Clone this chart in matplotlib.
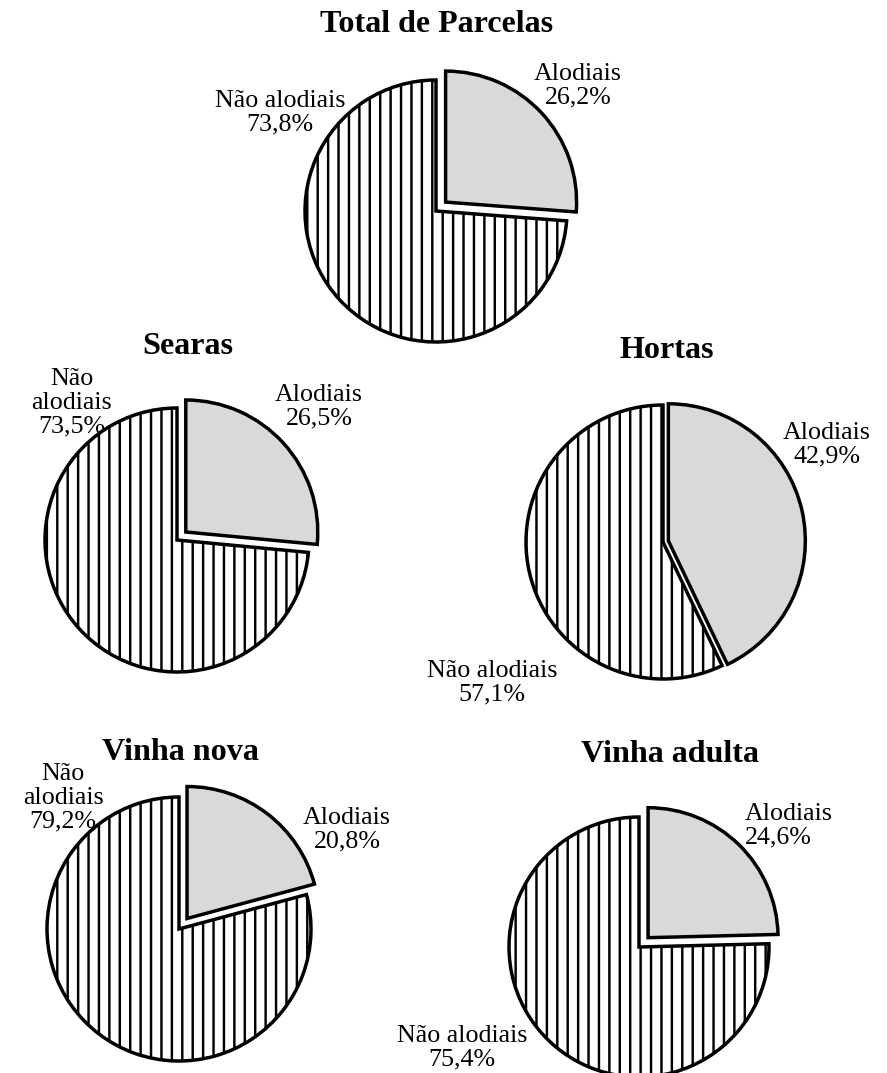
import numpy as np
import matplotlib
matplotlib.use('Agg')
import matplotlib.pyplot as plt

# 数据: 各类土地中 alodiais / não alodiais 的比例 (%)
titulos = ['Total de Parcelas', 'Searas', 'Hortas', 'Vinha nova', 'Vinha adulta']
categorias = ['Alodiais', 'Não alodiais']
alodiais = [26.2, 26.5, 42.9, 20.8, 24.6]
nao_alodiais = [73.8, 73.5, 57.1, 79.2, 75.4]

# 版面 (像素, y 由上往下)
W, H = 887, 1073
DPI = 125
layout = {
    'Total de Parcelas': dict(c=(436, 211), r=131, exp=0.10, tit=(437, 24),
                              alo=(578, 86, 'center'), nao=(280, 113, 'center'), quebra=False),
    'Searas': dict(c=(177, 540), r=132, exp=0.09, tit=(188, 347),
                   alo=(319, 407, 'center'), nao=(72, 403, 'center'), quebra=True),
    'Hortas': dict(c=(663, 542), r=137, exp=0.04, tit=(667, 350),
                   alo=(827, 445, 'center'), nao=(492, 683, 'center'), quebra=False),
    'Vinha nova': dict(c=(179, 929), r=132, exp=0.10, tit=(180, 752),
                       alo=(347, 830, 'center'), nao=(63, 798, 'center'), quebra=True),
    'Vinha adulta': dict(c=(639, 947), r=130, exp=0.10, tit=(670, 755),
                         alo=(745, 826, 'left'), nao=(462, 1048, 'center'), quebra=False),
}

plt.rcParams['font.family'] = ['Liberation Serif', 'DejaVu Serif']
plt.rcParams['hatch.linewidth'] = 1.4

fig = plt.figure(figsize=(W / DPI, H / DPI), dpi=DPI)
fig.patch.set_facecolor('white')
ax = fig.add_axes([0, 0, 1, 1])


def fmt(v):
    return f'{v:.1f}%'.replace('.', ',')


for nome, a, n in zip(titulos, alodiais, nao_alodiais):
    L = layout[nome]
    cx, cy = L['c'][0], H - L['c'][1]
    # explode do matplotlib é em unidades de dados -> multiplicar pelo raio
    wedges, _ = ax.pie([a, n], explode=[L['exp'] * L['r'], 0], startangle=90, counterclock=False,
                       radius=L['r'], center=(cx, cy), colors=['#d9d9d9', 'white'],
                       wedgeprops=dict(edgecolor='black', linewidth=2.0))
    wedges[1].set_hatch('||')

    tx, ty = L['tit']
    ax.text(tx, H - ty, nome, ha='center', va='center', fontsize=18.5, fontweight='bold')

    x, y, ha = L['alo']
    ax.text(x, H - y, f'{categorias[0]}\n{fmt(a)}', ha=ha, va='center',
            multialignment=ha, fontsize=15, linespacing=1.1)

    x, y, ha = L['nao']
    rot = categorias[1].replace(' ', '\n') if L['quebra'] else categorias[1]
    ax.text(x, H - y, f'{rot}\n{fmt(n)}', ha=ha, va='center',
            multialignment='center', fontsize=15, linespacing=1.1)

ax.set_xlim(0, W)
ax.set_ylim(0, H)
ax.set_aspect('equal')
ax.axis('off')

plt.savefig('out.png', dpi=DPI, facecolor='white')
plt.close()
